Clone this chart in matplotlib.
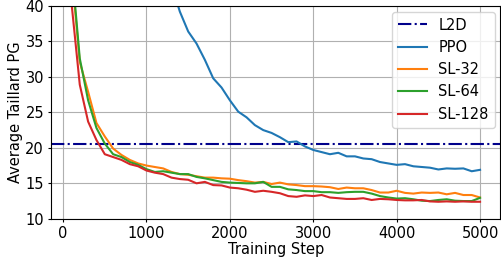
import matplotlib
matplotlib.use("Agg")  # headless backend

import matplotlib.pyplot as plt

steps = list(range(100, 5001, 100))

l2d = 20.5

ppo = [95, 88, 82, 76, 71, 66, 62, 58, 54, 51, 48, 45.5, 43, 39.2, 36.4,
       34.7, 32.4, 29.8, 28.5, 26.7, 25.1, 24.3, 23.2, 22.5, 22.1, 21.5, 20.8,
       20.9, 20.2, 19.7, 19.4, 19.1, 19.3, 18.8, 18.8, 18.5, 18.4, 18.0, 17.8,
       17.6, 17.7, 17.4, 17.3, 17.2, 16.95, 17.1, 17.05, 17.1, 16.7, 16.9]

sl32 = [45, 32.1, 27.9, 23.5, 21.6, 19.9, 19.0, 18.3, 17.8, 17.5, 17.3, 17.1,
        16.6, 16.3, 16.2, 16.0, 15.8, 15.8, 15.7, 15.65, 15.45, 15.3, 15.1,
        15.2, 14.9, 15.1, 14.85, 14.75, 14.6, 14.6, 14.55, 14.45, 14.2, 14.4,
        14.3, 14.3, 14.05, 13.7, 13.7, 13.95, 13.65, 13.55, 13.7, 13.65, 13.7,
        13.45, 13.65, 13.35, 13.35, 13.0]

sl64 = [46, 32.6, 26.7, 22.8, 20.6, 19.1, 18.7, 18.0, 17.6, 17.0, 16.6, 16.7,
        16.5, 16.3, 16.3, 15.9, 15.7, 15.45, 15.2, 15.1, 15.05, 15.0, 15.0,
        15.2, 14.5, 14.5, 14.15, 14.05, 13.9, 13.9, 13.75, 13.75, 13.65, 13.75,
        13.8, 13.8, 13.55, 13.2, 13.0, 12.85, 12.9, 12.75, 12.55, 12.5, 12.65,
        12.75, 12.55, 12.5, 12.5, 12.95]

sl128 = [40.5, 28.9, 23.7, 21.1, 19.1, 18.7, 18.3, 17.7, 17.4, 16.8, 16.5,
         16.3, 15.8, 15.6, 15.5, 15.0, 15.2, 14.75, 14.7, 14.4, 14.3, 14.1,
         13.8, 13.95, 13.8, 13.6, 13.2, 13.1, 13.3, 13.2, 13.35, 13.0, 12.9,
         12.8, 12.8, 12.9, 12.65, 12.8, 12.75, 12.65, 12.6, 12.6, 12.65, 12.45,
         12.4, 12.45, 12.4, 12.45, 12.4, 12.4]

plt.rcParams["font.size"] = 10.5

fig, ax = plt.subplots(figsize=(5.02, 2.58), dpi=100)
fig.subplots_adjust(left=0.1016, right=0.997, top=0.977, bottom=0.152)

ax.axhline(l2d, color="darkblue", linestyle="-.", linewidth=1.5, label="L2D")
ax.plot(steps, ppo, color="tab:blue", linewidth=1.5, label="PPO")
ax.plot(steps, sl32, color="tab:orange", linewidth=1.5, label="SL-32")
ax.plot(steps, sl64, color="tab:green", linewidth=1.5, label="SL-64")
ax.plot(steps, sl128, color="tab:red", linewidth=1.5, label="SL-128")

ax.set_ylim(10, 40)
ax.set_xlim(-145, 5245)
ax.tick_params(length=2.5, pad=2.5)
ax.set_xlabel("Training Step", labelpad=1)
ax.set_ylabel("Average Taillard PG", labelpad=2)
ax.grid(True, color="#b0b0b0", linewidth=0.8)
ax.legend(loc="upper right", borderaxespad=0.4)

plt.savefig("out.png")
plt.close()
